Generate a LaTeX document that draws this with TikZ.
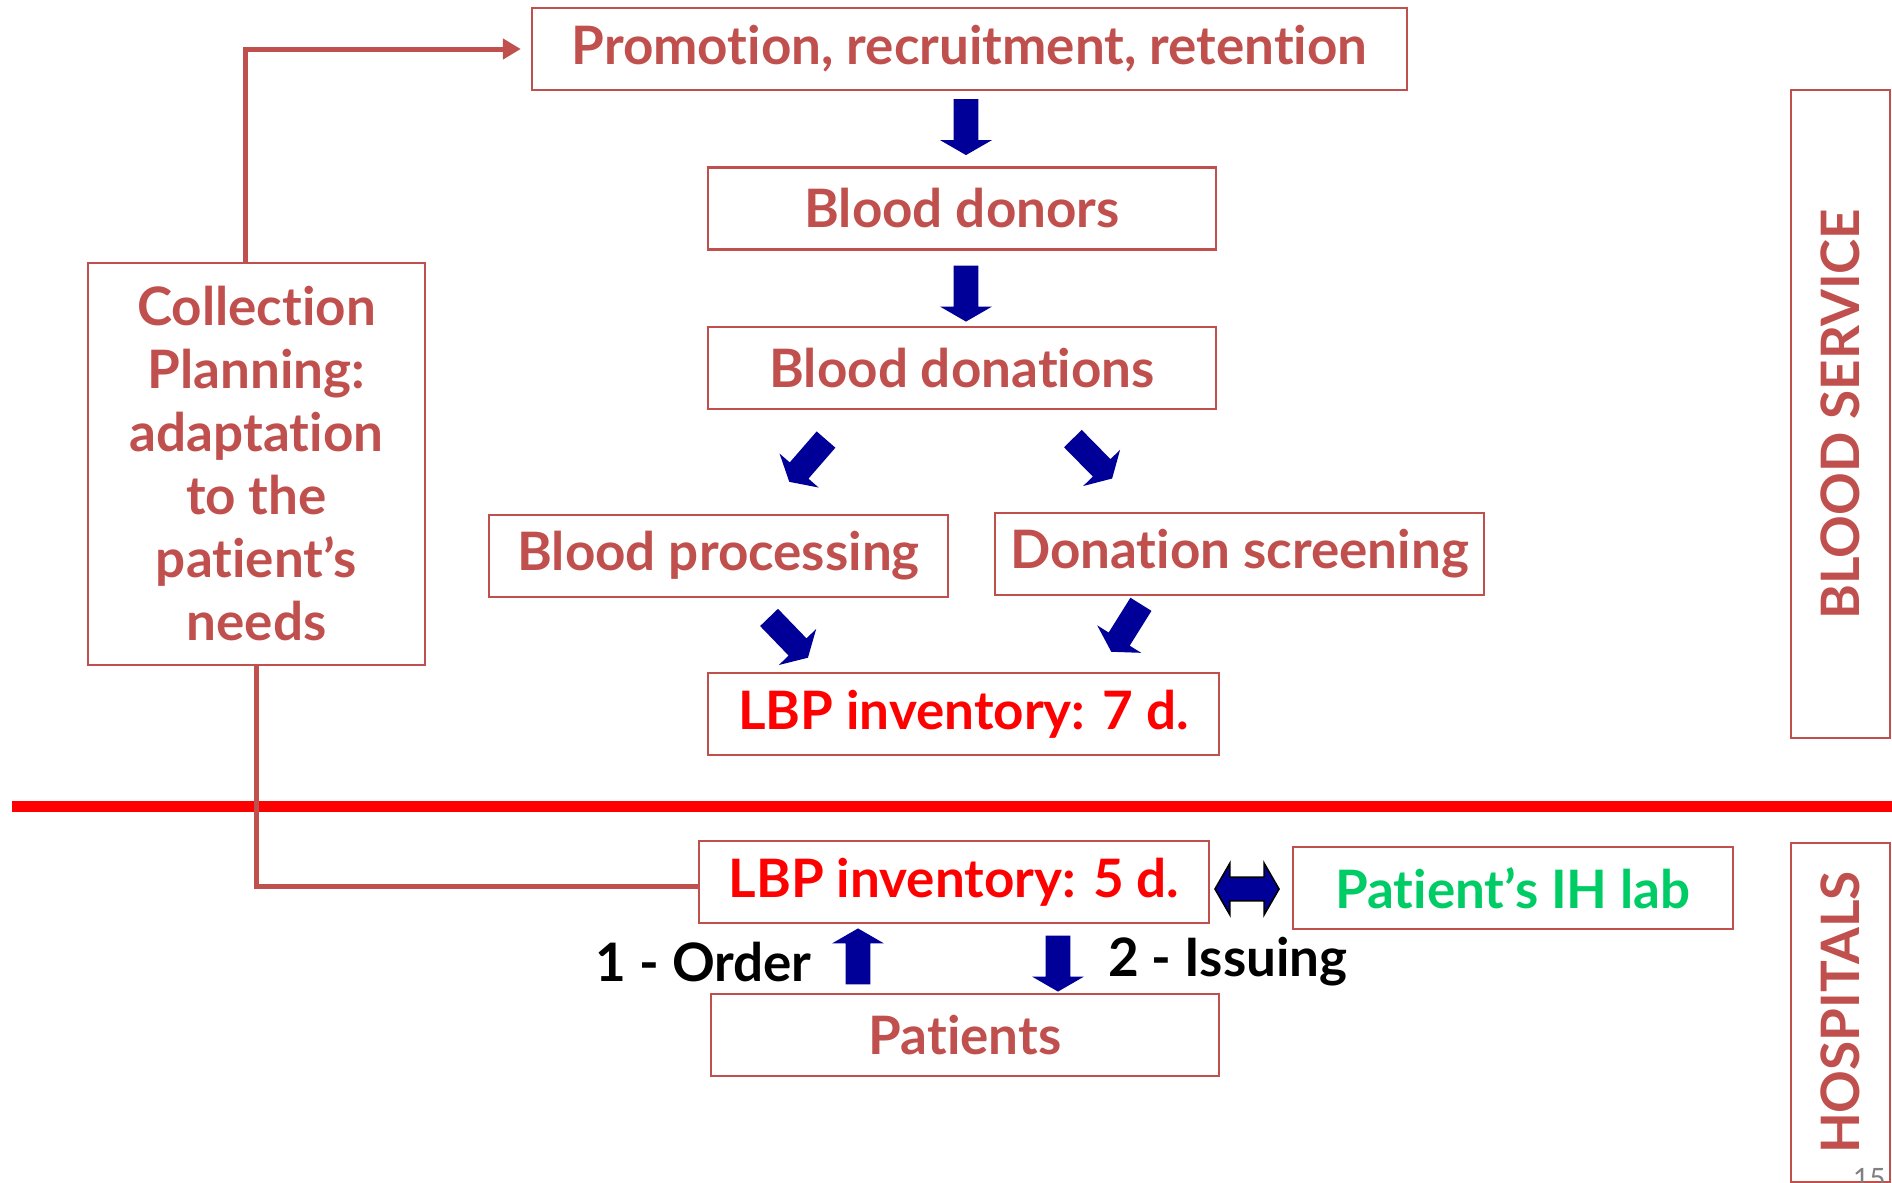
\documentclass[tikz,border=0pt]{standalone}
\usepackage{fontspec}
\setmainfont{Lato}[Ligatures=NoCommon]
\usetikzlibrary{shapes.arrows,arrows.meta}

\definecolor{boxred}{RGB}{192,80,77}
\definecolor{arrowblue}{RGB}{0,0,153}
\definecolor{labgreen}{RGB}{0,204,102}

\tikzset{
  box/.style={draw=boxred, line width=1.2pt, text=boxred, minimum height=41pt,
    inner sep=0pt, font=\bfseries\fontsize{26.5}{31.5}\selectfont},
  stock/.style={box, text=red},
  link/.style={draw=boxred, line width=2.5pt},
  blk/.style={single arrow, fill=arrowblue, inner xsep=0pt, inner ysep=6pt,
    minimum height=28pt, single arrow head extend=6.75pt, single arrow tip angle=120},
  dblk/.style={double arrow, fill=arrowblue, draw=black, line width=0.8pt,
    inner xsep=0pt, inner ysep=5.5pt, minimum height=32pt,
    double arrow head extend=7pt, double arrow tip angle=120},
  steplabel/.style={font=\bfseries\fontsize{26.5}{31.5}\selectfont, inner sep=0pt}
}

\begin{document}
\begin{tikzpicture}[x=0.5pt,y=-0.5pt]
\useasboundingbox (0,0) rectangle (1892,1183);

% blood service side
\node[box, minimum width=437.5pt] (promo) at (969.5,49) {Promotion, recruitment, retention};
\node[box, minimum width=254pt] (donors) at (962,208.5) {Blood donors};
\node[box, minimum width=254pt] (donations) at (962,368) {Blood donations};
\node[box, minimum width=229.5pt] (proc) at (718.5,556) {Blood processing};
\node[box, minimum width=244.5pt] (screen) at (1239.5,554) {Donation screening};
\node[stock, minimum width=255.5pt] (inv7) at (963.5,714) {LBP inventory: 7 d.};
\node[box, minimum width=168.5pt, minimum height=201pt, align=center] (collect) at (256.5,464)
  {Collection\\Planning:\\adaptation\\to the\\patient’s\\needs};

% hospital side
\node[stock, minimum width=255pt] (inv5) at (954,882) {LBP inventory: 5 d.};
\node[box, text=labgreen, minimum width=220pt] (lab) at (1513,888) {Patient’s IH lab};
\node[box, minimum width=254pt] (patients) at (965,1035) {Patients};

\node[box, rotate=90, minimum width=324pt, minimum height=49.5pt] (bs) at (1840.5,414) {BLOOD SERVICE};
\node[box, rotate=90, minimum width=169.5pt, minimum height=49.5pt] (hosp) at (1840.5,1012.5) {HOSPITALS};

\draw[red, line width=5.5pt] (12,806) -- (1892,806);

% block arrows
\foreach \n/\x/\y/\a in {a1/966/123.5/-90, a2/966/290/-90, a3/810/458/-131,
    a4/1090/456/-45.5, a5/786/635/-46, a6/1128/625/-122, a7/1058/960/-90}
  \node[blk, rotate=\a] (\n) at (\x,\y) {};
\node[blk, rotate=90] (order) at (858,960) {};
\node[dblk] (swap) at (1247,889) {};

\node[steplabel, anchor=east] (ordertxt) at (812,962) {1 - Order};
\node[steplabel, anchor=west] (issuetxt) at (1108,962) {2 - Issuing};

% planning loop
\draw[link, -{Triangle[length=9pt,width=10pt]}, shorten >=5pt]
  ([xshift=-5.75pt]collect.north) |- (promo.west);
\draw[link] (collect.south) |- ([yshift=-2pt]inv5.west);

\node[text=gray, font=\fontsize{14}{16}\selectfont, anchor=north east, inner sep=0pt]
  (pagenum) at (1886,1168) {15};

\end{tikzpicture}
\end{document}
